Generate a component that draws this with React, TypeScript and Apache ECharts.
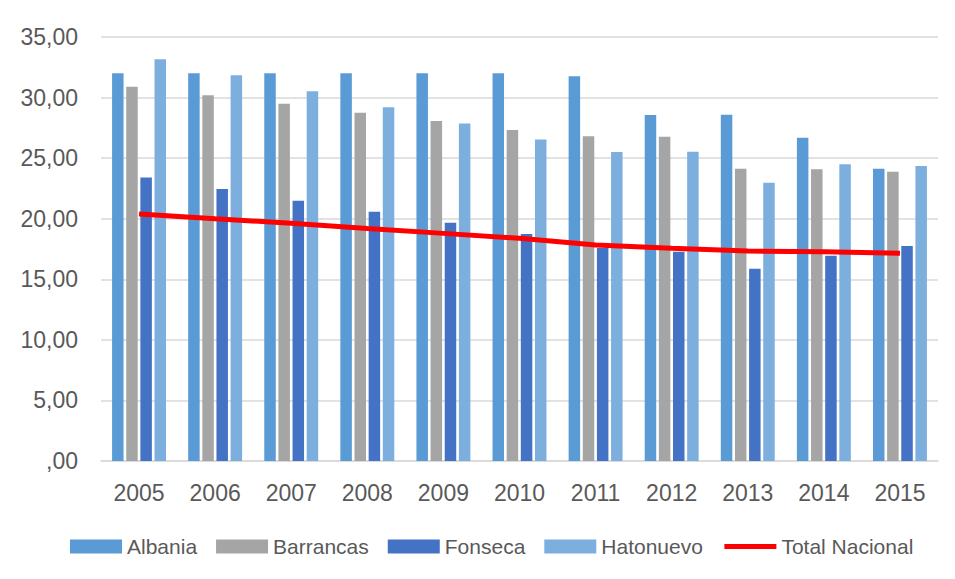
import React, { useEffect, useRef } from "react";
import * as echarts from "echarts";

const years = ["2005", "2006", "2007", "2008", "2009", "2010", "2011", "2012", "2013", "2014", "2015"];
const albania = [32.0, 32.0, 32.0, 32.0, 32.0, 32.0, 31.76, 28.56, 28.59, 26.69, 24.13];
const barrancas = [30.9, 30.19, 29.5, 28.75, 28.07, 27.32, 26.8, 26.77, 24.13, 24.08, 23.88];
const fonseca = [23.4, 22.45, 21.49, 20.58, 19.67, 18.74, 17.58, 17.28, 15.87, 16.95, 17.75];
const hatonuevo = [33.16, 31.84, 30.52, 29.2, 27.85, 26.53, 25.5, 25.53, 22.97, 24.49, 24.35];
const totalNacional = [20.39, 20.0, 19.62, 19.2, 18.79, 18.38, 17.83, 17.56, 17.33, 17.28, 17.14];

const FONT = "'Liberation Sans', Arial, sans-serif";
const TEXT = "#595959";

export default function App() {
  const ref = useRef<HTMLDivElement>(null);
  useEffect(() => {
    if (!ref.current) return;
    const chart = echarts.init(ref.current, null, { renderer: "svg" });
    const barBase = {
      type: "bar" as const,
      barWidth: 11.5,
      barGap: "23%",
    };
    chart.setOption({
      animation: false,
      backgroundColor: "#ffffff",
      textStyle: { fontFamily: FONT },
      graphic: [
        {
          type: "rect",
          shape: { x: 6, y: 7, width: 1200, height: 1000 },
          style: { fill: "none", stroke: "#D9D9D9", lineWidth: 1.5 },
          silent: true,
        },
      ],
      grid: { left: 101, right: 17, top: 37, bottom: 118 },
      legend: {
        left: 65,
        top: 531,
        itemWidth: 52,
        itemHeight: 14,
        itemGap: 19,
        textStyle: { fontFamily: FONT, fontSize: 21, color: TEXT },
        data: [
          { name: "Albania", icon: "rect" },
          { name: "Barrancas", icon: "rect" },
          { name: "Fonseca", icon: "rect" },
          { name: "Hatonuevo", icon: "rect" },
          { name: "Total Nacional", itemStyle: { opacity: 0 }, lineStyle: { width: 5, color: "#FF0000" } },
        ],
      },
      xAxis: {
        type: "category",
        data: years,
        axisLine: { show: true, lineStyle: { color: "#D9D9D9", width: 1.5 } },
        axisTick: { show: false },
        axisLabel: { color: TEXT, fontSize: 23, fontFamily: FONT, margin: 20 },
      },
      yAxis: {
        type: "value",
        min: 0,
        max: 35,
        interval: 5,
        axisLine: { show: false },
        axisTick: { show: false },
        splitLine: { lineStyle: { color: "#D9D9D9", width: 1.5 } },
        axisLabel: {
          color: TEXT,
          fontSize: 23,
          fontFamily: FONT,
          margin: 23,
          formatter: (v: number) => (v === 0 ? ",00" : v.toFixed(2).replace(".", ",")),
        },
      },
      series: [
        { ...barBase, name: "Albania", data: albania, itemStyle: { color: "#5B9BD5" } },
        { ...barBase, name: "Barrancas", data: barrancas, itemStyle: { color: "#A5A5A5" } },
        { ...barBase, name: "Fonseca", data: fonseca, itemStyle: { color: "#4472C4" } },
        { ...barBase, name: "Hatonuevo", data: hatonuevo, itemStyle: { color: "#7CAFDD" } },
        {
          type: "line",
          name: "Total Nacional",
          data: totalNacional,
          symbol: "none",
          lineStyle: { color: "#FF0000", width: 5 },
          itemStyle: { color: "#FF0000" },
          z: 5,
        },
      ],
    });
    return () => chart.dispose();
  }, []);
  return <div ref={ref} style={{ width: 955, height: 579, margin: -8 }} />;
}
